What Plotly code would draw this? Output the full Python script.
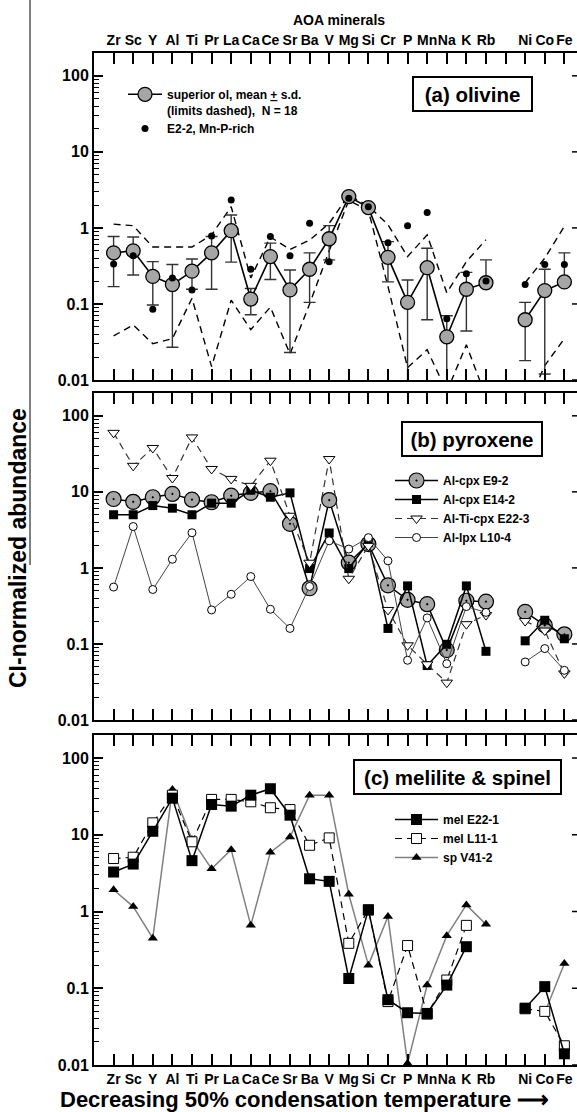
import math
import plotly.graph_objects as go

# ---------------- data ----------------
tick_labels = ["Zr", "Sc", "Y", "Al", "Ti", "Pr", "La", "Ca", "Ce", "Sr", "Ba", "V",
               "Mg", "Si", "Cr", "P", "Mn", "Na", "K", "Rb", "", "Ni", "Co", "Fe"]

# (a) olivine
ol_mean = [0.47, 0.50, 0.23, 0.18, 0.27, 0.47, 0.92, 0.116, 0.42, 0.153, 0.286, 0.72,
           2.58, 1.85, 0.41, 0.105, 0.30, 0.037, 0.156, 0.19, None, 0.062, 0.15, 0.195]
ol_sd_hi = [0.77, 0.76, 0.36, 0.33, 0.39, 0.77, 1.48, 0.16, 0.63, 0.28, 0.47, 1.07,
            2.58, 1.85, 0.66, 0.207, 0.54, 0.07, 0.26, 0.38, None, 0.105, 0.286, 0.47]
ol_sd_lo = [0.169, 0.24, 0.097, 0.027, 0.156, 0.156, 0.355, 0.072, 0.21, 0.023, 0.105, 0.38,
            2.58, 1.85, 0.195, 0.001, 0.062, 0.001, 0.044, 0.19, None, 0.018, 0.012, 0.195]
ol_max = [1.12, 1.07, 0.56, 0.56, 0.56, 0.81, 1.9, 0.22, 0.76, 0.52, 0.69, 1.15,
          2.7, 1.95, 1.1, 0.42, 0.81, 0.14, 0.36, 0.70, None, 0.19, 0.40, 1.05]
ol_min = [0.038, 0.053, 0.030, 0.035, 0.119, 0.015, 0.112, 0.046, 0.091, 0.022, 0.10, 0.50,
          2.3, 1.7, 0.17, 0.0145, 0.025, 0.007, 0.029, 0.006, None, 0.004, 0.0155, 0.035]
ol_E2_2 = [0.336, 0.43, 0.085, 0.22, 0.153, 0.78, 2.33, 0.286, 0.77, 0.43, 1.15, 0.36,
           2.45, 1.9, 0.64, 1.07, 1.6, 0.064, 0.25, 0.20, None, 0.18, 0.33, 0.33]

# (b) pyroxene
px_E9_2 = [8.05, 7.4, 8.5, 9.4, 7.9, 7.3, 8.9, 9.7, 10.2, 3.8, 0.54, 7.8,
           1.17, 2.06, 0.59, 0.38, 0.333, 0.083, 0.37, 0.36, None, 0.264, 0.176, 0.134]
px_E14_2 = [5.0, 5.0, 6.6, 6.1, 5.0, 7.1, 7.1, 10.5, 8.5, 9.7, 0.98, 2.88,
            0.98, 2.17, 0.16, 0.58, 0.052, 0.099, 0.58, 0.080, None, 0.11, 0.205, 0.117]
px_E22_3 = [59.7, 22, 37.8, 15.2, 52, 20, 14.8, 12, 25.7, 4.85, 1.17, 27,
            0.72, 1.95, 0.28, 0.096, 0.054, 0.031, 0.182, 0.24, None, 0.20, 0.15, 0.041]
px_L10_4 = [0.56, 3.5, 0.52, 1.3, 2.9, 0.28, 0.45, 0.77, 0.286, 0.16, 0.57, 2.27,
            1.77, 2.5, 1.24, 0.061, 0.22, 0.055, 0.31, 0.26, None, 0.058, 0.087, 0.045]

# (c) melilite & spinel
mel_E22_1 = [3.27, 4.15, 11.1, 30, 4.6, 24.8, 23.6, 32.8, 39.8, 18, 2.67, 2.47,
             0.134, 1.05, 0.071, 0.048, 0.047, 0.11, 0.348, None, None, 0.055, 0.105, 0.014]
mel_L11_1 = [4.9, 5.1, 14.3, 32.8, 8.1, 28.9, 28.9, 26.9, 22.5, 21.3, 7.3, 9.1,
             0.385, 1.05, 0.067, 0.36, 0.046, 0.128, 0.66, None, None, 0.054, 0.05, 0.0178]
sp_V41_2 = [1.92, 1.16, 0.45, 39, 8.65, 3.6, 6.4, 0.66, 5.9, 9.35, 32.8, 32.8,
            1.68, 0.20, 0.86, 0.0105, 0.11, 0.485, 1.22, 0.68, None, None, 0.048, 0.21]

y_tick_vals = [0.01, 0.1, 1, 10, 100]
y_tick_text = ["0.01", "0.1", "1", "10", "100"]

# ---------------- figure ----------------
FONT = "Liberation Sans"
xs = list(range(len(tick_labels)))
fig = go.Figure()

err_plus = [(h - m) if (h is not None and m is not None) else 0 for h, m in zip(ol_sd_hi, ol_mean)]
err_minus = [(m - l) if (l is not None and m is not None) else 0 for l, m in zip(ol_sd_lo, ol_mean)]

dash = "7px,5px"
# olivine limits
fig.add_trace(go.Scatter(x=xs, y=ol_max, mode="lines", line=dict(color="black", width=1.4, dash=dash),
                         showlegend=False, xaxis="x", yaxis="y", hoverinfo="skip"))
fig.add_trace(go.Scatter(x=xs, y=ol_min, mode="lines", line=dict(color="black", width=1.4, dash=dash),
                         showlegend=False, xaxis="x", yaxis="y", hoverinfo="skip"))
fig.add_trace(go.Scatter(x=xs, y=ol_mean, mode="lines+markers",
                         name="superior ol, mean <u>+</u> s.d.<br>(limits dashed), \u00a0N = 18",
                         line=dict(color="black", width=1.6),
                         marker=dict(symbol="circle", size=14, color="#a6a6a6", line=dict(color="black", width=1.3)),
                         error_y=dict(type="data", symmetric=False, array=err_plus, arrayminus=err_minus,
                                      color="#333333", thickness=1.4, width=6),
                         xaxis="x", yaxis="y", legend="legend"))
fig.add_trace(go.Scatter(x=xs, y=ol_E2_2, mode="markers", name="E2-2, Mn-P-rich",
                         marker=dict(symbol="circle", size=7, color="black"),
                         xaxis="x", yaxis="y", legend="legend"))

# pyroxene
fig.add_trace(go.Scatter(x=xs, y=px_E9_2, mode="lines+markers", name="Al-cpx E9-2",
                         line=dict(color="black", width=1.5),
                         marker=dict(symbol="circle-dot", size=15, color="#a6a6a6", line=dict(color="black", width=1.2)),
                         xaxis="x2", yaxis="y2", legend="legend2"))
fig.add_trace(go.Scatter(x=xs, y=px_E14_2, mode="lines+markers", name="Al-cpx E14-2",
                         line=dict(color="black", width=1.5),
                         marker=dict(symbol="square", size=9, color="black"),
                         xaxis="x2", yaxis="y2", legend="legend2"))
fig.add_trace(go.Scatter(x=xs, y=px_E22_3, mode="lines+markers", name="Al-Ti-cpx E22-3",
                         line=dict(color="#333333", width=1.2, dash=dash),
                         marker=dict(symbol="triangle-down", size=10, color="white", line=dict(color="black", width=1)),
                         xaxis="x2", yaxis="y2", legend="legend2"))
fig.add_trace(go.Scatter(x=xs, y=px_L10_4, mode="lines+markers", name="Al-lpx L10-4",
                         line=dict(color="#444444", width=1),
                         marker=dict(symbol="circle", size=8, color="white", line=dict(color="black", width=1)),
                         xaxis="x2", yaxis="y2", legend="legend2"))

# melilite & spinel
fig.add_trace(go.Scatter(x=xs, y=sp_V41_2, mode="lines+markers", name="sp V41-2",
                         line=dict(color="#808080", width=1.5),
                         marker=dict(symbol="triangle-up", size=9, color="black"),
                         xaxis="x3", yaxis="y3", legend="legend3", legendrank=3))
fig.add_trace(go.Scatter(x=xs, y=mel_L11_1, mode="lines+markers", name="mel L11-1",
                         line=dict(color="black", width=1.2, dash=dash),
                         marker=dict(symbol="square", size=10, color="white", line=dict(color="black", width=1)),
                         xaxis="x3", yaxis="y3", legend="legend3", legendrank=2))
fig.add_trace(go.Scatter(x=xs, y=mel_E22_1, mode="lines+markers", name="mel E22-1",
                         line=dict(color="black", width=1.5),
                         marker=dict(symbol="square", size=11, color="black"),
                         xaxis="x3", yaxis="y3", legend="legend3", legendrank=1))

# ---------------- axes ----------------
minor_vals = [m * 10 ** e for e in range(-2, 3) for m in range(2, 10)]
YR = [-2, 2.3]

def yax(domain):
    return dict(type="log", range=YR, domain=domain, showline=True, linewidth=2, linecolor="black",
                ticks="inside", ticklen=9, tickwidth=1.5, tickcolor="black",
                tickvals=y_tick_vals, ticktext=y_tick_text,
                tickfont=dict(family=FONT, size=16, color="black", weight="bold"),
                minor=dict(tickvals=minor_vals, ticks="inside", ticklen=5, tickwidth=1, tickcolor="black"),
                showgrid=False, zeroline=False)

def xax(anchor, side, labels):
    return dict(range=[-1, 23.645], domain=[0, 1], anchor=anchor, side=side,
                tickvals=xs, ticktext=tick_labels, showticklabels=labels, tickangle=0,
                ticks="inside", ticklen=11, tickwidth=1.5, tickcolor="black",
                showline=True, linewidth=2, linecolor="black", mirror="ticks",
                showgrid=False, zeroline=False,
                tickfont=dict(family=FONT, size=14, color="black", weight="bold"))

H0, H1 = 53, 1065
def pfy(py):
    return (H1 - py) / (H1 - H0)
def pfx(px):
    return (px - 94) / (577 - 94)

dom_a = [pfy(380), 1.0]
dom_b = [pfy(720), pfy(393)]
dom_c = [0.0, pfy(735)]

legfont = dict(family=FONT, size=12, color="black", weight="bold")

fig.update_layout(
    width=577, height=1112,
    margin=dict(l=94, r=0, t=53, b=47),
    paper_bgcolor="white", plot_bgcolor="white",
    font=dict(family=FONT, color="black"),
    xaxis=xax("y", "top", True),
    xaxis2=xax("y2", "bottom", False),
    xaxis3=xax("y3", "bottom", True),
    yaxis=yax(dom_a),
    yaxis2=yax(dom_b),
    yaxis3=yax(dom_c),
    legend=dict(x=pfx(123), y=pfy(80), xanchor="left", yanchor="top", bgcolor="rgba(0,0,0,0)",
                font=legfont, itemwidth=34, valign="top", tracegroupgap=0),
    legend2=dict(x=pfx(390), y=pfy(466), xanchor="left", yanchor="top", bgcolor="rgba(0,0,0,0)",
                 font=legfont, itemwidth=43),
    legend3=dict(x=pfx(390), y=pfy(805), xanchor="left", yanchor="top", bgcolor="rgba(0,0,0,0)",
                 font=legfont, itemwidth=43),
)

# panel labels
for txt, cx, cy, w in [("(a) olivine", 472.5, 94, 111), ("(b) pyroxene", 472, 439.5, 132),
                       ("(c) melilite &amp; spinel", 457.5, 777, 199)]:
    fig.add_annotation(text=txt, x=pfx(cx), y=pfy(cy), xref="paper", yref="paper",
                       xanchor="center", yanchor="middle", width=w, height=26, align="center",
                       showarrow=False, font=dict(family=FONT, size=20.5, color="black", weight="bold"),
                       bordercolor="black", borderwidth=2, borderpad=3, bgcolor="white")

fig.add_annotation(text="AOA minerals", x=pfx(339), y=pfy(20), xref="paper", yref="paper", showarrow=False,
                   xanchor="center", yanchor="middle",
                   font=dict(family=FONT, size=14, color="black", weight="bold"))
fig.add_annotation(text="CI-normalized abundance", x=pfx(18), y=pfy(548), xref="paper", yref="paper",
                   showarrow=False, textangle=-90, xanchor="center", yanchor="middle",
                   font=dict(family=FONT, size=23, color="black", weight="bold"))
fig.add_annotation(text="Decreasing 50% condensation temperature \u27f6", x=pfx(304), y=pfy(1099),
                   xref="paper", yref="paper", showarrow=False, xanchor="center", yanchor="middle",
                   font=dict(family=FONT, size=22, color="black", weight="bold"))

# right-edge decade ticks (axis itself lies beyond the cropped picture)
for yr in ["y", "y2", "y3"]:
    for v in y_tick_vals:
        f = (math.log10(v) - YR[0]) / (YR[1] - YR[0])
        fig.add_shape(type="line", xref="paper", yref=yr + " domain", x0=pfx(572), x1=1.0, y0=f, y1=f,
                      line=dict(color="black", width=1.5))

# scan edge line on the left
fig.add_shape(type="line", xref="paper", yref="paper", x0=pfx(30), x1=pfx(30), y0=pfy(0), y1=pfy(565),
              line=dict(color="black", width=1))

fig.write_html("out.html")
